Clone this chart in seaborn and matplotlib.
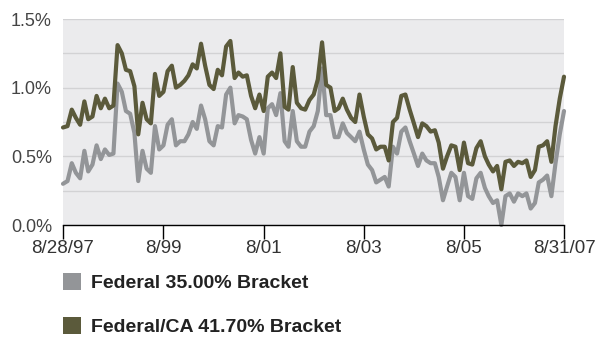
import numpy as np
import pandas as pd
import matplotlib
matplotlib.use("Agg")
import matplotlib.pyplot as plt
from matplotlib.patches import Patch
import seaborn as sns

# Monthly yields (%), Aug 1997 - Aug 2007
federal_35 = [
    0.30, 0.32, 0.45, 0.38, 0.34, 0.54, 0.39, 0.44, 0.58, 0.48,
    0.55, 0.51, 0.52, 1.03, 0.97, 0.83, 0.81, 0.67, 0.32, 0.54,
    0.41, 0.38, 0.72, 0.55, 0.58, 0.73, 0.77, 0.58, 0.61, 0.61,
    0.66, 0.75, 0.70, 0.87, 0.77, 0.61, 0.58, 0.72, 0.71, 0.95,
    1.00, 0.74, 0.80, 0.79, 0.77, 0.62, 0.52, 0.64, 0.52, 0.85,
    0.88, 0.80, 0.96, 0.61, 0.57, 0.83, 0.61, 0.57, 0.57, 0.68,
    0.72, 0.83, 1.14, 0.80, 0.80, 0.64, 0.64, 0.74, 0.67, 0.64,
    0.61, 0.68, 0.55, 0.44, 0.40, 0.31, 0.33, 0.35, 0.28, 0.57,
    0.52, 0.68, 0.71, 0.61, 0.52, 0.43, 0.52, 0.47, 0.45, 0.45,
    0.35, 0.18, 0.28, 0.38, 0.35, 0.18, 0.38, 0.21, 0.19, 0.34,
    0.38, 0.27, 0.21, 0.16, 0.18, 0.00, 0.21, 0.23, 0.17, 0.23,
    0.21, 0.23, 0.12, 0.16, 0.31, 0.33, 0.36, 0.21, 0.45, 0.66,
    0.83,
]
federal_ca_4170 = [
    0.71, 0.72, 0.84, 0.78, 0.73, 0.90, 0.77, 0.79, 0.94, 0.85,
    0.92, 0.85, 0.87, 1.31, 1.25, 1.13, 1.12, 1.01, 0.66, 0.89,
    0.77, 0.74, 1.10, 0.94, 0.97, 1.12, 1.16, 1.00, 1.02, 1.05,
    1.09, 1.17, 1.14, 1.32, 1.16, 1.02, 0.99, 1.13, 1.09, 1.30,
    1.34, 1.07, 1.11, 1.08, 1.09, 0.94, 0.85, 0.95, 0.83, 1.08,
    1.11, 1.07, 1.25, 0.86, 0.84, 1.15, 0.89, 0.85, 0.84, 0.91,
    0.95, 1.06, 1.33, 1.02, 1.00, 0.83, 0.85, 0.92, 0.84, 0.78,
    0.75, 0.95, 0.79, 0.66, 0.63, 0.55, 0.57, 0.57, 0.47, 0.75,
    0.78, 0.94, 0.95, 0.84, 0.74, 0.64, 0.74, 0.72, 0.68, 0.69,
    0.60, 0.41, 0.50, 0.58, 0.57, 0.40, 0.60, 0.45, 0.44, 0.56,
    0.61, 0.50, 0.44, 0.39, 0.43, 0.26, 0.46, 0.47, 0.43, 0.46,
    0.45, 0.47, 0.35, 0.40, 0.57, 0.58, 0.61, 0.46, 0.72, 0.92,
    1.08,
]
series_names = ["Federal 35.00% Bracket", "Federal/CA 41.70% Bracket"]
series_colors = ["#939598", "#5b5a3b"]

dates = pd.date_range("1997-08-31", "2007-08-31", freq="ME")
dates = dates.insert(0, pd.Timestamp("1997-08-28")).delete(1)

tick_dates = pd.to_datetime(["1997-08-28", "1999-08-31", "2001-08-31",
                             "2003-08-31", "2005-08-31", "2007-08-31"])
tick_labels = ["8/28/97", "8/99", "8/01", "8/03", "8/05", "8/31/07"]
y_ticks = [0.0, 0.5, 1.0, 1.5]
y_labels = ["0.0%", "0.5%", "1.0%", "1.5%"]

df = pd.concat([
    pd.DataFrame({"date": dates, "yield": federal_35, "series": series_names[0]}),
    pd.DataFrame({"date": dates, "yield": federal_ca_4170, "series": series_names[1]}),
])

sns.set_theme(style="white")
plt.rcParams["font.family"] = ["Liberation Sans", "DejaVu Sans"]

fig = plt.figure(figsize=(6.10, 3.37), dpi=100)
ax = fig.add_axes([63 / 610, 1 - 225 / 337, 501 / 610, 206 / 337])
ax.set_facecolor("#ebebed")

sns.lineplot(data=df, x="date", y="yield", hue="series", hue_order=series_names,
             palette=series_colors, linewidth=3.0, legend=False, ax=ax,
             clip_on=False, zorder=3)

ax.set_xlim(dates[0], dates[-1])
ax.set_ylim(0, 1.5)
ax.set_yticks(y_ticks)
ax.set_yticklabels(y_labels)
ax.set_yticks([0.25, 0.75, 1.25], minor=True)
ax.set_xticks(tick_dates)
ax.set_xticklabels(tick_labels)
ax.set_xlabel("")
ax.set_ylabel("")

ax.grid(axis="y", which="both", color="#d2d2d4", linewidth=1.0, zorder=1)
ax.grid(axis="x", visible=False)
ax.set_axisbelow(True)

for side in ("left", "right", "top"):
    ax.spines[side].set_visible(False)
ax.spines["bottom"].set_color("#000000")
ax.spines["bottom"].set_linewidth(1.0)
ax.spines["bottom"].set_zorder(4)

ax.tick_params(axis="x", which="major", direction="out", length=10, width=1.0,
               color="#000000", labelsize=13.5, labelcolor="#333333", pad=1,
               bottom=True)
ax.tick_params(axis="y", which="both", length=0, labelsize=13,
               labelcolor="#444444", pad=8)

handles = [Patch(facecolor=c, edgecolor="none") for c in series_colors]
leg = fig.legend(handles, series_names, loc="upper left",
                 bbox_to_anchor=(63 / 610, 1 - 273 / 337), frameon=False,
                 borderpad=0, borderaxespad=0,
                 handlelength=0.95, handleheight=0.95, handletextpad=0.5,
                 labelspacing=1.3, prop={"size": 14, "weight": "bold"})
for t in leg.get_texts():
    t.set_color("#222222")

fig.savefig("out.png", dpi=100)
